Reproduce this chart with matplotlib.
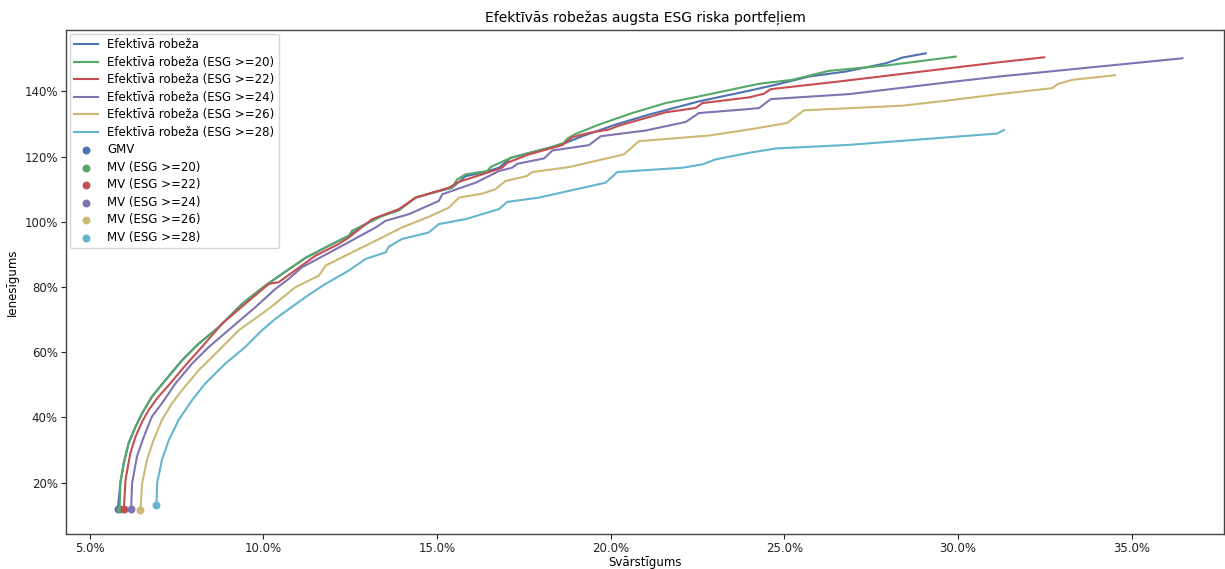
import matplotlib
matplotlib.use("Agg")
import matplotlib.pyplot as plt
from matplotlib.ticker import PercentFormatter

# volatility (%) and return (%) for each efficient frontier
ef_x = [5.81, 5.88, 5.98, 6.12, 6.32, 6.51, 6.79, 7.18, 7.66, 8.14, 8.72, 9.39, 10.06, 10.54,
        11.21, 11.79, 12.46, 12.94, 13.42, 13.90, 14.38, 14.96, 15.43, 15.82, 16.30, 16.78,
        17.12, 17.74, 18.22, 18.65, 19.18, 20.14, 21.10, 22.54, 23.98, 24.75, 25.71, 26.77,
        27.92, 28.40, 29.07]
ef_y = [11.97, 19.91, 26.02, 32.12, 37.19, 41.28, 46.35, 51.45, 57.56, 62.66, 67.73, 74.87, 80.46, 84.03,
        88.92, 92.15, 95.73, 99.30, 101.83, 103.57, 107.42, 109.16, 110.47, 114.00, 115.05, 116.58,
        119.63, 121.37, 122.69, 124.00, 126.26, 129.83, 132.89, 136.95, 140.21, 142.05, 144.58, 146.11,
        148.64, 150.38, 151.70]

ef20_x = [5.86, 5.88, 5.98, 6.12, 6.32, 6.51, 6.79, 7.18, 7.66, 8.14, 8.72, 9.39, 10.06, 10.54,
          11.21, 11.79, 12.46, 12.55, 12.94, 13.42, 13.90, 14.38, 14.96, 15.43, 15.58, 15.82,
          16.44, 16.54, 17.12, 17.74, 18.22, 18.65, 18.75, 18.99, 19.66, 20.62, 21.58, 22.54,
          24.27, 25.23, 26.28, 27.92, 29.93]
ef20_y = [11.76, 19.91, 26.02, 32.12, 37.19, 41.28, 46.35, 51.45, 57.56, 62.66, 67.73, 74.87, 80.46, 84.03,
          88.92, 92.15, 95.73, 97.25, 99.30, 101.83, 103.57, 107.42, 109.16, 110.47, 113.04, 114.56,
          115.57, 116.79, 119.63, 121.37, 122.69, 124.21, 125.56, 126.96, 129.83, 133.37, 136.43, 138.47,
          142.35, 143.57, 146.32, 147.94, 150.69]

ef22_x = [5.98, 6.03, 6.17, 6.32, 6.51, 6.70, 6.94, 7.32, 7.76, 8.23, 8.81, 9.48, 10.16, 10.44,
          11.50, 12.17, 12.46, 13.13, 13.90, 14.38, 15.34, 15.63, 16.30, 16.87, 17.02, 17.64,
          18.60, 18.89, 19.37, 19.95, 20.24, 20.91, 21.58, 22.44, 22.64, 23.98, 24.41, 24.61,
          26.57, 29.74, 31.18, 32.48]
ef22_y = [11.76, 20.92, 29.07, 34.14, 38.72, 42.29, 45.86, 50.44, 56.03, 61.62, 68.76, 74.87, 80.98, 81.47,
          89.62, 93.19, 95.21, 100.82, 103.88, 107.42, 110.47, 112.26, 114.56, 116.58, 118.11, 120.67,
          123.51, 125.95, 127.27, 128.31, 129.53, 131.54, 133.59, 134.90, 136.43, 138.17, 139.30, 140.70,
          143.05, 147.11, 148.95, 150.47]

ef24_x = [6.19, 6.22, 6.36, 6.56, 6.79, 7.08, 7.47, 7.95, 8.43, 9.10, 9.77, 10.35, 10.73, 11.11,
          12.27, 13.23, 13.52, 14.19, 15.05, 15.15, 16.11, 16.78, 17.16, 17.31, 18.08, 18.32,
          19.37, 19.71, 21.00, 22.16, 22.54, 23.98, 24.27, 24.61, 26.86, 29.74, 31.18, 36.46]
ef24_y = [11.76, 19.91, 28.03, 34.14, 40.24, 44.34, 50.44, 56.55, 61.62, 67.73, 73.83, 79.45, 82.50, 86.05,
          92.67, 98.26, 100.31, 102.35, 106.41, 108.46, 112.00, 115.57, 116.58, 117.80, 119.45, 121.89,
          123.51, 126.26, 128.00, 130.63, 133.37, 134.60, 134.90, 137.65, 139.18, 142.84, 144.58, 150.17]

ef26_x = [6.46, 6.51, 6.65, 6.84, 7.08, 7.37, 7.66, 8.14, 8.72, 9.29, 9.96, 10.16, 10.92, 11.60,
          11.79, 12.36, 13.23, 13.99, 14.76, 15.34, 15.63, 16.30, 16.68, 16.97, 17.59, 17.74,
          18.80, 20.38, 20.81, 22.83, 23.98, 25.08, 25.56, 28.40, 29.74, 31.18, 32.72, 32.86,
          33.29, 34.52]
ef26_y = [11.54, 19.91, 27.02, 33.13, 39.24, 44.34, 48.40, 54.50, 60.61, 66.72, 71.82, 73.34, 79.94, 83.51,
          86.56, 89.62, 94.20, 98.26, 101.53, 104.37, 107.42, 108.64, 110.00, 112.52, 114.05, 115.27,
          116.79, 120.67, 124.73, 126.47, 128.31, 130.32, 134.20, 135.63, 137.25, 139.18, 141.01, 142.23,
          143.57, 144.98]

ef28_x = [6.92, 6.94, 7.08, 7.28, 7.56, 7.95, 8.33, 8.91, 9.48, 9.96, 10.35, 11.21, 11.79, 12.46,
          12.94, 13.52, 13.61, 13.99, 14.76, 15.05, 15.82, 16.78, 17.02, 17.93, 19.85, 20.19,
          22.06, 22.64, 23.02, 23.98, 24.75, 26.86, 29.74, 31.13, 31.32]
ef28_y = [13.07, 19.91, 27.02, 33.13, 39.24, 45.34, 50.44, 56.55, 61.62, 66.72, 70.29, 76.89, 80.98, 85.04,
          88.61, 90.63, 92.37, 94.72, 96.73, 99.30, 100.82, 103.88, 106.11, 107.42, 112.00, 115.27,
          116.58, 117.62, 119.15, 121.16, 122.50, 123.60, 125.95, 127.08, 128.18]

# minimum-variance points
mv_labels = ["GMV", "MV (ESG >=20)", "MV (ESG >=22)", "MV (ESG >=24)", "MV (ESG >=26)", "MV (ESG >=28)"]
mv_x = [5.81, 5.86, 5.98, 6.19, 6.46, 6.92]
mv_y = [11.97, 11.76, 11.76, 11.76, 11.54, 13.07]

line_labels = ["Efektīvā robeža", "Efektīvā robeža (ESG >=20)", "Efektīvā robeža (ESG >=22)",
               "Efektīvā robeža (ESG >=24)", "Efektīvā robeža (ESG >=26)", "Efektīvā robeža (ESG >=28)"]
colors = ["#4C72B0", "#55A868", "#C44E52", "#8172B2", "#CCB974", "#64B5CD"]

curves = [(ef_x, ef_y), (ef20_x, ef20_y), (ef22_x, ef22_y),
          (ef24_x, ef24_y), (ef26_x, ef26_y), (ef28_x, ef28_y)]

plt.rcParams['font.family'] = ['DejaVu Sans']
fig = plt.figure(figsize=(12.25, 5.69), dpi=100)
ax = fig.add_axes([0.054, 0.062, 0.945, 0.885])

for (xs, ys), lab, c in zip(curves, line_labels, colors):
    ax.plot(xs, ys, color=c, lw=1.5, label=lab)
for x, y, lab, c in zip(mv_x, mv_y, mv_labels, colors):
    ax.scatter([x], [y], color=c, s=22, label=lab, zorder=3)

ax.set_xlim(4.32, 37.65)
ax.set_ylim(4.3, 158.8)
ax.xaxis.set_major_formatter(PercentFormatter(100, decimals=1))
ax.yaxis.set_major_formatter(PercentFormatter(100, decimals=0))
ax.set_xticks([5, 10, 15, 20, 25, 30, 35])
ax.set_yticks([20, 40, 60, 80, 100, 120, 140])
ax.tick_params(labelsize=8.5, colors="#222222", length=3.5, pad=2.5)
for sp in ax.spines.values():
    sp.set_color("#444444")
    sp.set_linewidth(1.0)

ax.set_title("Efektīvās robežas augsta ESG riska portfeļiem", fontsize=10, pad=6)
ax.set_xlabel("Svārstīgums", fontsize=8.5, labelpad=1)
ax.set_ylabel("Ienesīgums", fontsize=8.5, labelpad=4)

ax.legend(loc="upper left", fontsize=8.5, frameon=True, borderaxespad=0.3, labelspacing=0.38)

fig.savefig("out.png", dpi=100)
